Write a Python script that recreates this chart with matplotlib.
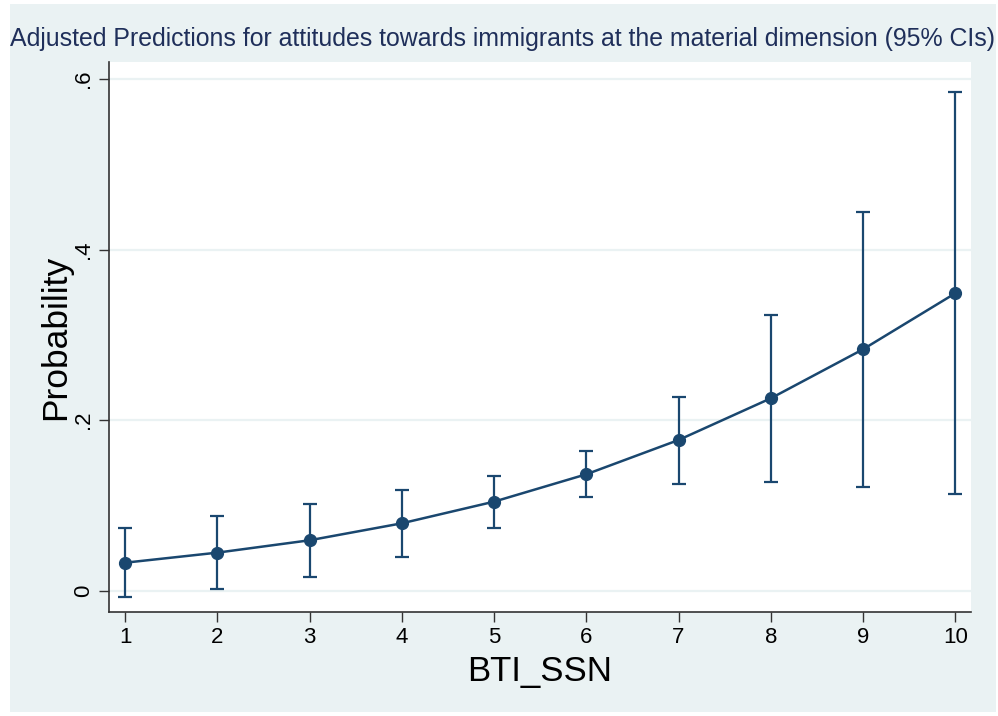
import numpy as np
import matplotlib
matplotlib.use('Agg')
import matplotlib.pyplot as plt
from matplotlib.patches import Rectangle

plt.rcParams['font.family'] = ['Liberation Sans', 'DejaVu Sans']

# adjusted predictions
bti_ssn = [1, 2, 3, 4, 5, 6, 7, 8, 9, 10]
prob = [0.0328, 0.0446, 0.0591, 0.0790, 0.1044, 0.1365, 0.1767, 0.2256, 0.2831, 0.3488]
ci_low = [-0.0077, 0.0016, 0.0161, 0.0399, 0.0739, 0.1095, 0.1255, 0.1271, 0.1213, 0.1131]
ci_high = [0.0732, 0.0876, 0.1020, 0.1180, 0.1345, 0.1635, 0.2275, 0.3233, 0.4445, 0.5845]
yticks = [0, 0.2, 0.4, 0.6]
ytick_labels = ['0', '.2', '.4', '.6']

NAVY = '#1A476F'
BG = '#EAF2F3'

fig = plt.figure(figsize=(9.98, 7.16), dpi=100, facecolor='white')
# stata style graph region
fig.patches.append(Rectangle((10 / 998, 4 / 716), 986 / 998, 708 / 716,
                             transform=fig.transFigure, facecolor=BG,
                             edgecolor='none', zorder=-10))

ax = fig.add_axes([109 / 998, 104 / 716, 862 / 998, 550 / 716])
ax.set_zorder(1)
ax.set_facecolor('white')

x = np.array(bti_ssn)
y = np.array(prob)
yerr = np.vstack([y - np.array(ci_low), np.array(ci_high) - y])
ax.errorbar(x, y, yerr=yerr, fmt='none', ecolor=NAVY, elinewidth=1.6,
            capsize=5, capthick=1.6, zorder=3)
ax.plot(x, y, color=NAVY, lw=1.8, marker='o', markersize=8.5, zorder=4)

ax.set_xlim(0.8265, 10.17)
ax.set_ylim(-0.025, 0.620)
ax.set_xticks(bti_ssn)
ax.set_yticks(yticks)
ax.set_yticklabels(ytick_labels, rotation=90, va='center')
ax.grid(axis='y', color=BG, lw=1.6)
ax.set_axisbelow(True)

for s in ['top', 'right']:
    ax.spines[s].set_visible(False)
for s in ['left', 'bottom']:
    ax.spines[s].set_color('#333333')
    ax.spines[s].set_linewidth(1.2)
ax.tick_params(direction='out', length=7, width=1, color='#333333',
               labelsize=16, pad=4, labelcolor='black')

ax.set_xlabel('BTI_SSN', fontsize=25, labelpad=5)
fig.text(56 / 998, 0.5 * (104 + 654) / 716, 'Probability', rotation=90,
         fontsize=25.5, ha='center', va='center')

fig.text(503 / 998, 1 - 39 / 716,
         'Adjusted Predictions for attitudes towards immigrants at the material dimension (95% CIs)',
         fontsize=17.9, color='#1F2F5A', ha='center', va='center')

fig.savefig('out.png', dpi=100, facecolor='white')
